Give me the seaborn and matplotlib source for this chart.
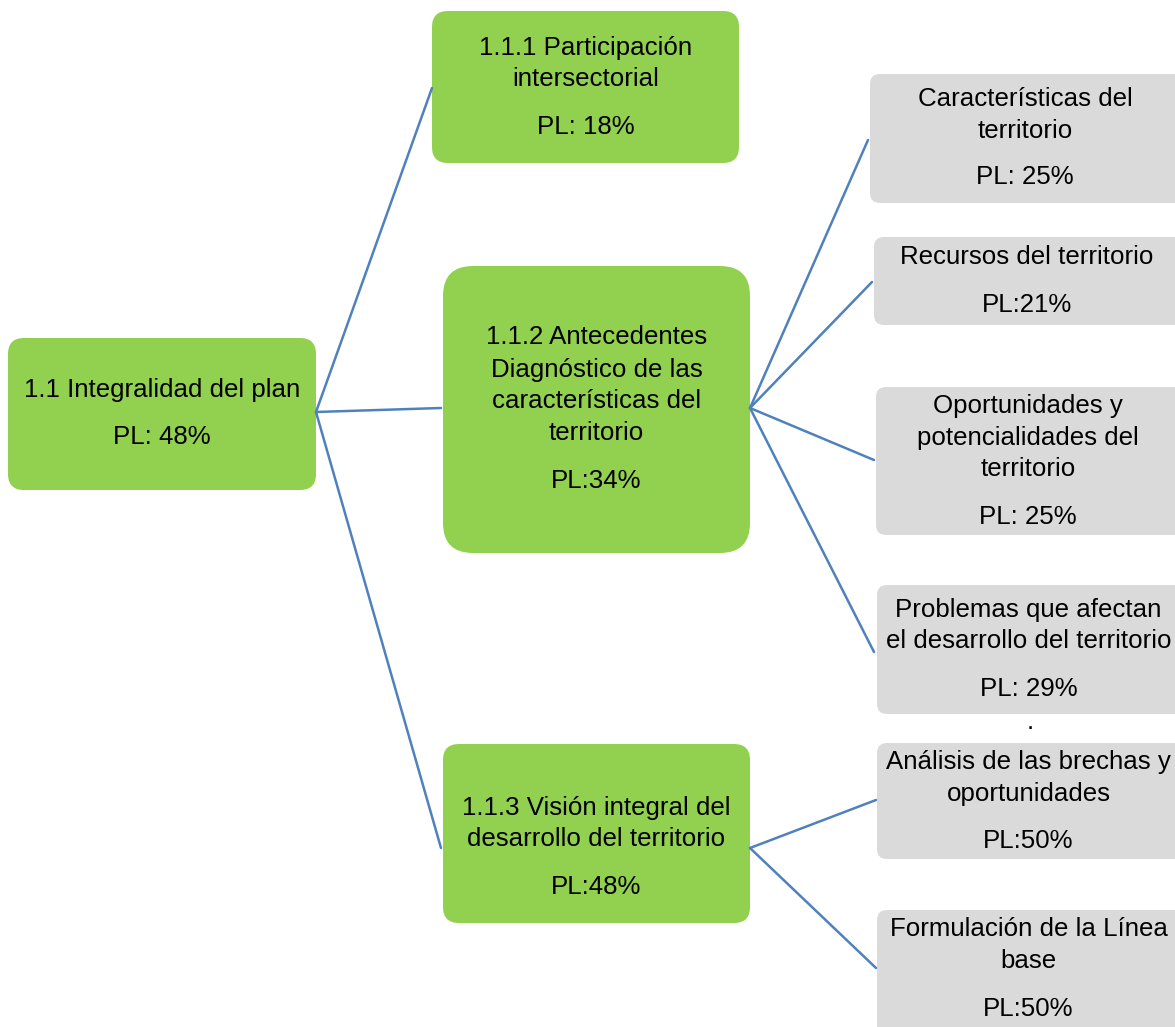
import matplotlib
matplotlib.use('Agg')
import matplotlib.pyplot as plt
from matplotlib import font_manager as fm
from matplotlib.patches import FancyBboxPatch
import pandas as pd
import seaborn as sns

# Node texts and PL values
node_ids = ['root', 'n111', 'n112', 'n113', 'g1', 'g2', 'g3', 'g4', 'g5', 'g6']
node_titles = [
    '1.1 Integralidad del plan',
    '1.1.1 Participación\nintersectorial',
    '1.1.2 Antecedentes\nDiagnóstico de las\ncaracterísticas del\nterritorio',
    '1.1.3 Visión integral del\ndesarrollo del territorio',
    'Características del\nterritorio',
    'Recursos del territorio',
    'Oportunidades y\npotencialidades del\nterritorio',
    'Problemas que afectan\nel desarrollo del territorio',
    'Análisis de las brechas y\noportunidades',
    'Formulación de la Línea\nbase',
]
node_pl = ['PL: 48%', 'PL: 18%', 'PL:34%', 'PL:48%', 'PL: 25%',
           'PL:21%', 'PL: 25%', 'PL: 29%', 'PL:50%', 'PL:50%']
parents = [None, 'root', 'root', 'root', 'n112', 'n112', 'n112', 'n112',
           'n113', 'n113']

# layout in pixels: x0, y0, x1, y1, text centre y, corner radius
layout = {
    'root': (8, 338, 316, 490, 414, 16),
    'n111': (432, 11, 739, 163, 87, 16),
    'n112': (443, 266, 750, 553, 409, 30),
    'n113': (443, 744, 750, 923, 847, 16),
    'g1': (870, 74, 1185, 203, 138, 10),
    'g2': (874, 237, 1185, 325, 281, 10),
    'g3': (876, 387, 1185, 535, 461, 10),
    'g4': (877, 585, 1185, 714, 649, 10),
    'g5': (877, 743, 1185, 859, 801, 10),
    'g6': (877, 910, 1185, 1040, 969, 10),
}
# connector end points on children
edge_end = {
    'n111': (432, 88), 'n112': (441, 408), 'n113': (441, 848),
    'g1': (868, 140), 'g2': (872, 282), 'g3': (874, 460), 'g4': (874, 652),
    'g5': (876, 800), 'g6': (876, 968),
}
edge_start = {'root': (316, 412), 'n112': (750, 408), 'n113': (750, 848)}

green = '#92D050'
gray = '#DADADA'
blue = '#4F81BD'

sns.set_theme(style='white')
installed = {f.name for f in fm.fontManager.ttflist}
if 'Liberation Sans Narrow' in installed:
    font, fsize = 'Liberation Sans Narrow', 22.5
else:
    font, fsize = 'Liberation Sans', 18.6
plt.rcParams['font.family'] = [font, 'DejaVu Sans']

fig = plt.figure(figsize=(11.75, 10.27), dpi=100)
ax = fig.add_axes([0, 0, 1, 1])

# edges
rows = []
for nid, par in zip(node_ids, parents):
    if par is None:
        continue
    sx, sy = edge_start[par]
    ex, ey = edge_end[nid]
    rows.append({'edge': nid, 'x': sx, 'y': sy})
    rows.append({'edge': nid, 'x': ex, 'y': ey})
edges = pd.DataFrame(rows)
sns.lineplot(data=edges, x='x', y='y', units='edge', estimator=None,
             sort=False, color=blue, lw=1.8, ax=ax)
ax.set_xlim(0, 1175)
ax.set_ylim(1027, 0)
ax.axis('off')

line_h = 32
pl_gap = 47
for nid, title, pl in zip(node_ids, node_titles, node_pl):
    x0, y0, x1, y1, cy, r = layout[nid]
    col = gray if nid.startswith('g') else green
    ax.add_patch(FancyBboxPatch((x0, y0), x1 - x0, y1 - y0,
                                boxstyle=f'round,pad=0,rounding_size={r}',
                                fc=col, ec='none', zorder=1))
    n = title.count('\n') + 1
    top = cy - ((n - 1) * line_h + pl_gap) / 2
    cx = (x0 + min(x1, 1180)) / 2
    for i, line in enumerate(title.split('\n')):
        ax.text(cx, top + i * line_h, line, ha='center', va='center',
                fontsize=fsize, color='black', zorder=3)
    ax.text(cx, top + (n - 1) * line_h + pl_gap, pl, ha='center',
            va='center', fontsize=fsize, color='black', zorder=3)

ax.text(1030, 722, '.', ha='center', va='center', fontsize=fsize, color='black')

fig.savefig('out.png', dpi=100)
